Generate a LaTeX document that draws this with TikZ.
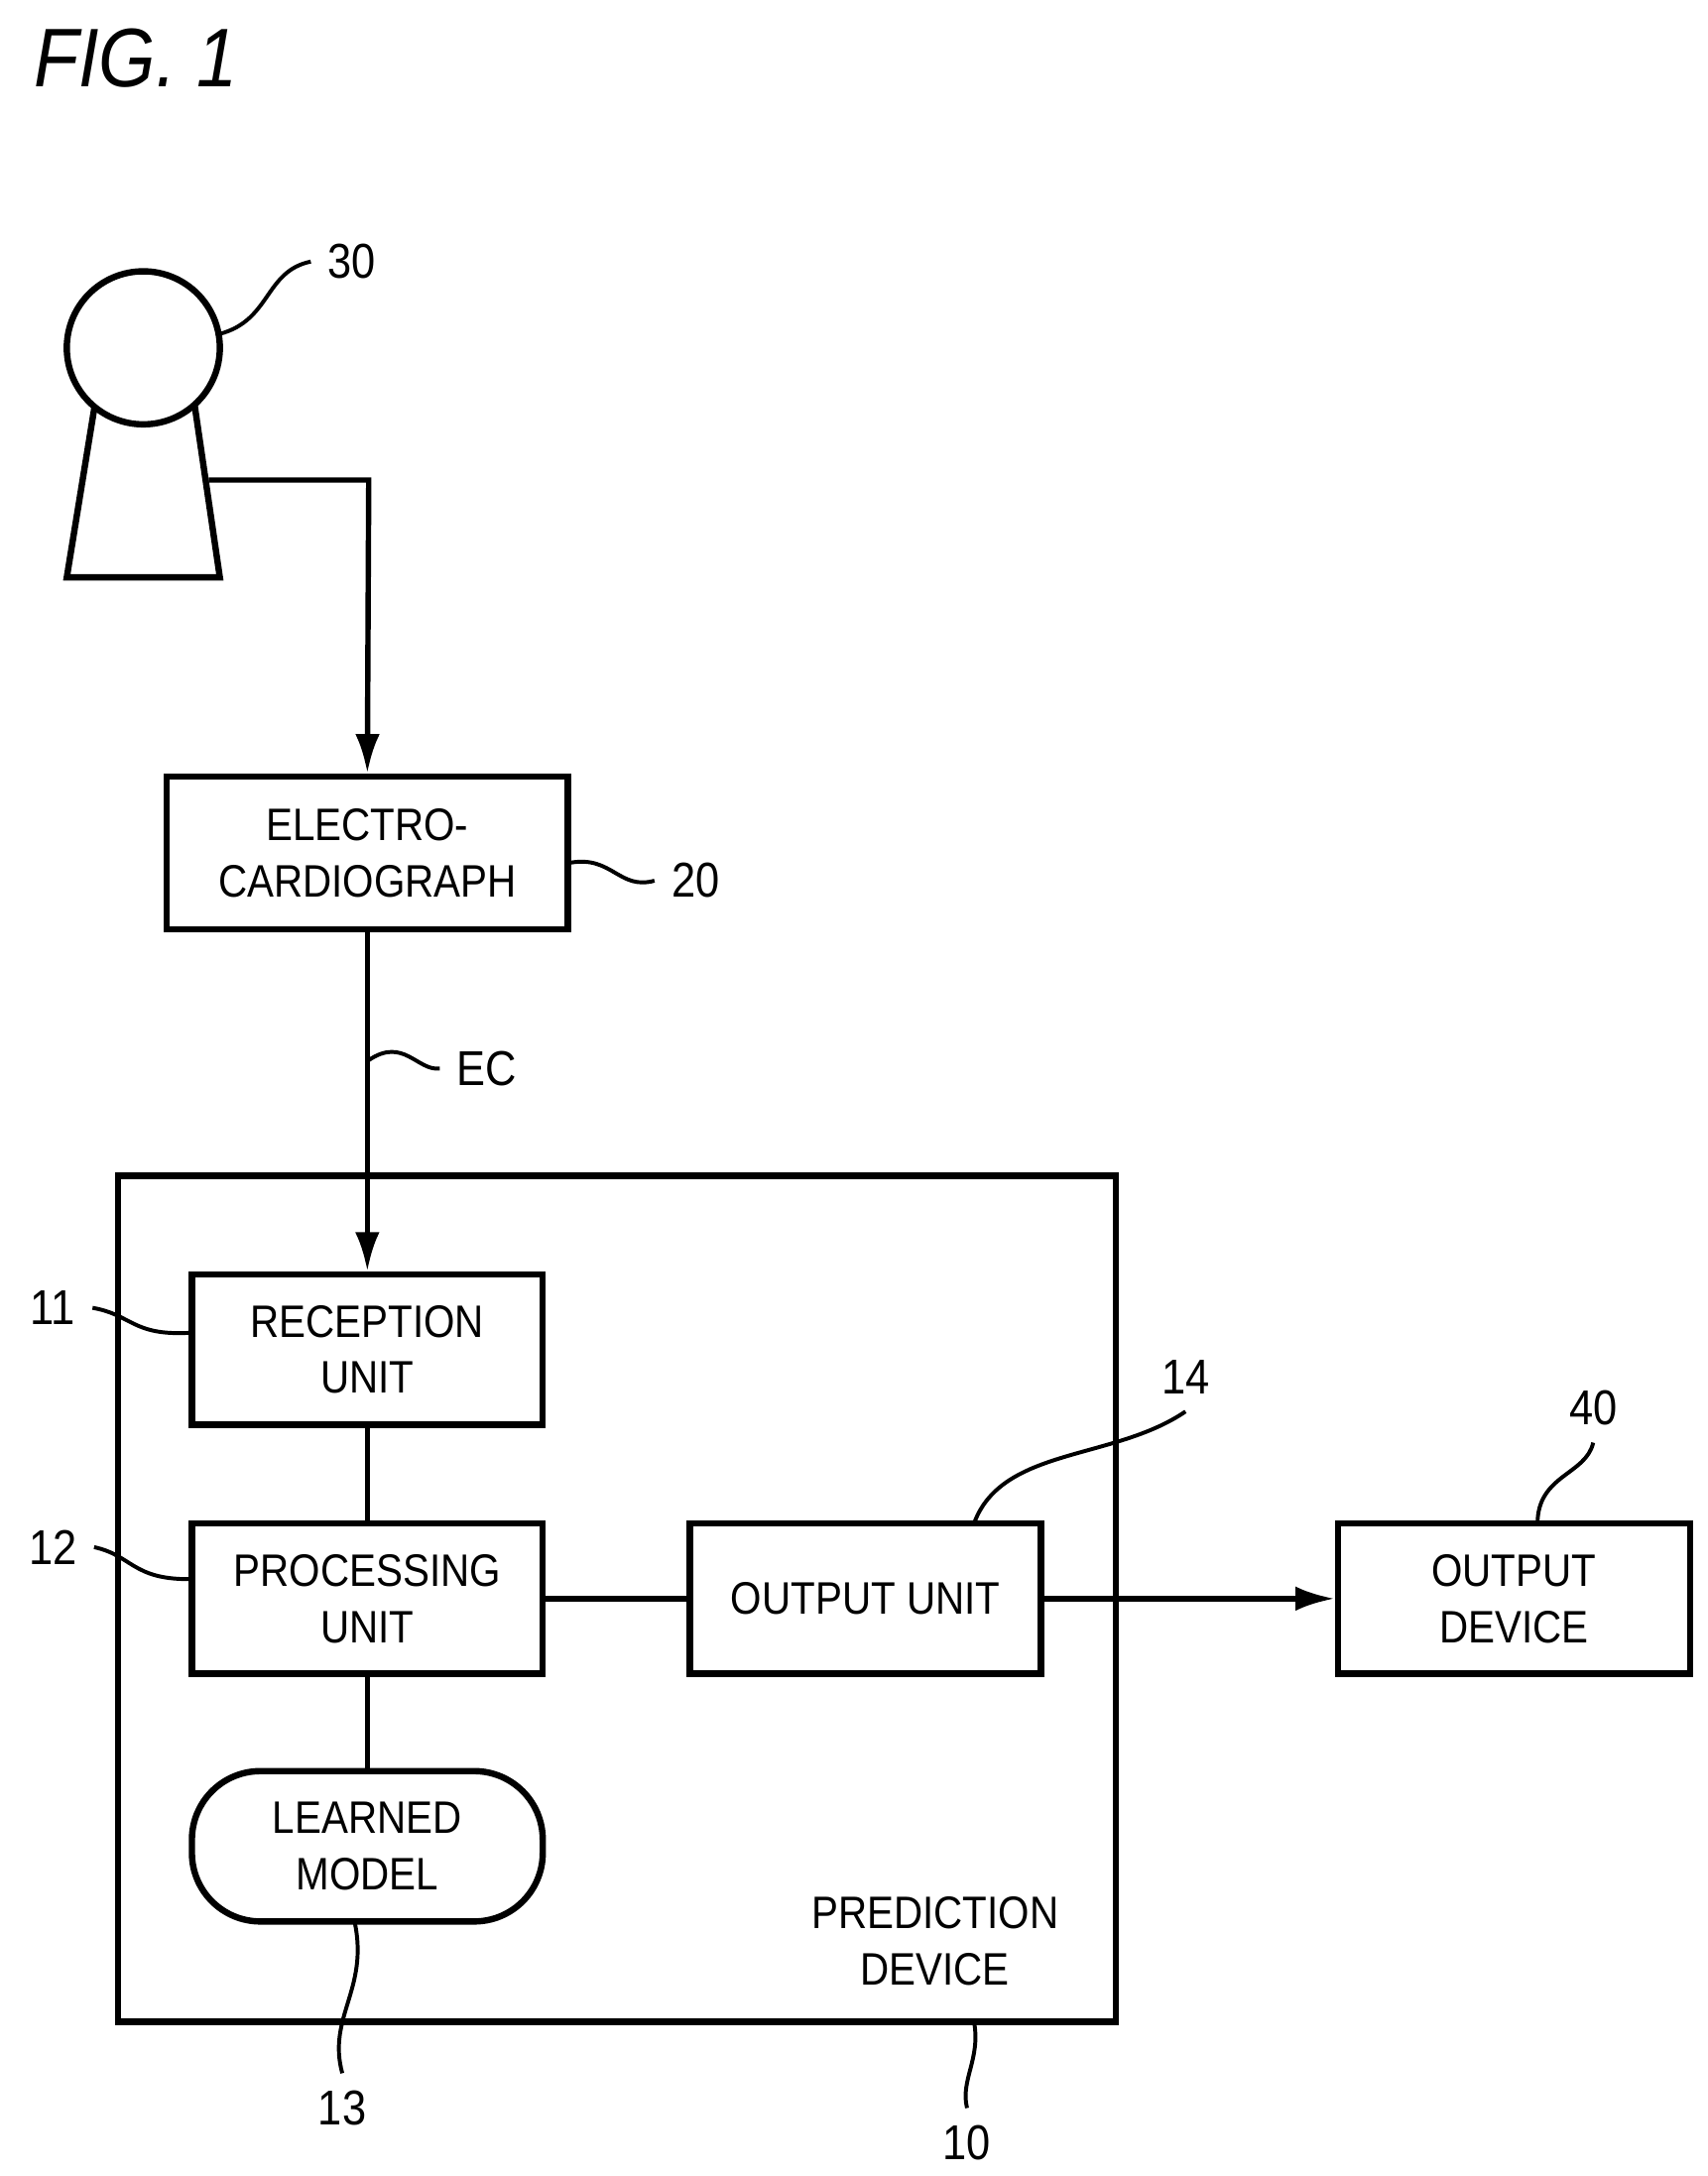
\documentclass[tikz,border=0pt]{standalone}
\usepackage{fontspec}
\setmainfont{Liberation Sans}[FakeStretch=0.88]
\usetikzlibrary{arrows.meta}
\begin{document}
\begin{tikzpicture}[x=0.01cm,y=-0.01cm,
  txt/.style={align=center,font=\fontsize{9.3}{11.5}\selectfont},
  box/.style={draw,line width=1.3pt,minimum width=2.52cm,minimum height=1.08cm,inner sep=0pt,txt},
  lbl/.style={font=\fontsize{10}{12}\selectfont},
  lead/.style={line width=0.8pt},
  conn/.style={line width=1.1pt},
  arr/.style={conn,-{Latex[length=8pt,width=5pt]}}]
\useasboundingbox (0,0) rectangle (1227,1564);
\node[font=\fontsize{17}{20}\selectfont\itshape,anchor=west] (fig) at (12,42) {FIG. 1};
% person
\draw[line width=1.3pt] (68,292) -- (48,415) -- (158,415) -- (140,292);
\draw[line width=1.3pt,fill=white] (103,250) circle (55);
\coordinate (body) at (150,345);
\coordinate (head) at (158,240);
% boxes
\node[box,minimum width=2.88cm,minimum height=1.1cm] (b20) at (264,613) {ELECTRO-\\CARDIOGRAPH};
\draw[line width=1.3pt] (85,845) rectangle (802,1453);
\coordinate (b10) at (700,1453);
\node[txt] (pd) at (672,1395) {PREDICTION\\DEVICE};
\node[box] (b11) at (264,970) {RECEPTION\\UNIT};
\node[box] (b12) at (264,1149) {PROCESSING\\UNIT};
\node[box,rounded corners=14pt] (b13) at (264,1327) {LEARNED\\MODEL};
\node[box] (b14) at (622,1149) {OUTPUT UNIT};
\node[box,minimum width=2.53cm] (b40) at (1088,1149) {OUTPUT\\DEVICE};
% connectors
\coordinate (bend) at (265,345);
\draw[arr] (body) -- (bend) -- (b20.north);
\draw[arr] (b20.south) -- (b11.north);
\draw[conn] (b11) -- (b12);
\draw[conn] (b12) -- (b13);
\draw[conn] (b12) -- (b14);
\draw[arr] (b14) -- (b40);
% labels
\node[lbl] (l30) at (253,188) {30};
\draw[lead] (head) .. controls (195,230) and (190,195) .. (l30.west);
\node[lbl] (l20) at (500,633) {20};
\draw[lead] (b20.east |- 0,620) .. controls (440,615) and (445,640) .. (l20.west);
\node[lbl] (lec) at (350,768) {EC};
\coordinate (ecp) at (265,762);
\draw[lead] (ecp) .. controls (290,745) and (300,770) .. (lec.west);
\node[lbl] (l11) at (38,940) {11};
\draw[lead] (l11.east) .. controls (95,945) and (95,960) .. (b11.west |- 0,958);
\node[lbl] (l12) at (38,1112) {12};
\draw[lead] (l12.east) .. controls (95,1118) and (95,1135) .. (b12.west |- 0,1135);
\node[lbl] (l13) at (246,1515) {13};
\draw[lead] (255,1382) .. controls (265,1430) and (235,1450) .. (l13.north);
\node[lbl] (l14) at (852,990) {14};
\draw[lead] (700,1095) .. controls (720,1040) and (800,1050) .. (l14.south);
\node[lbl] (l40) at (1145,1012) {40};
\draw[lead] (1105,1095) .. controls (1105,1060) and (1140,1060) .. (l40.south);
\node[lbl] (l10) at (695,1540) {10};
\draw[lead] (b10) .. controls (705,1480) and (690,1495) .. (l10.north);
\end{tikzpicture}
\end{document}
